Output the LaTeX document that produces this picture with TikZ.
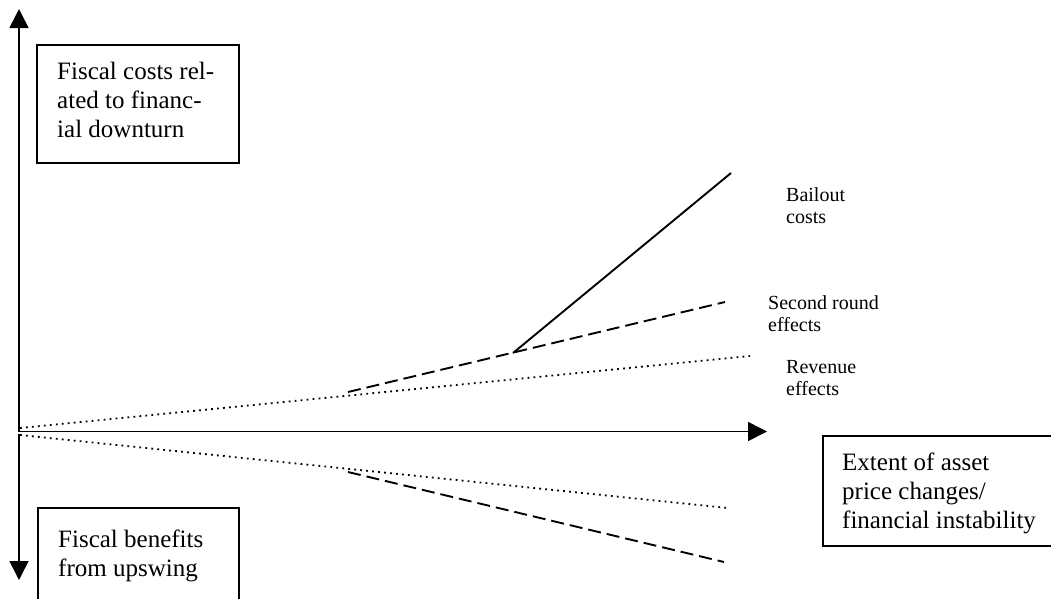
\documentclass[tikz,border=0pt]{standalone}
\usepackage{fontspec}
\setmainfont{Liberation Serif}
\usetikzlibrary{arrows.meta}
\begin{document}
\begin{tikzpicture}[x=1pt,y=-1pt,
  axis/.style={line width=1.6pt,-{Triangle[length=19pt,width=19pt]}},
  framebox/.style={draw,line width=1.3pt},
  boxtext/.style={anchor=north west,inner sep=0pt,align=left,font=\fontsize{25}{28.8}\selectfont},
  labeltext/.style={anchor=north west,inner sep=0pt,align=left,font=\fontsize{20}{22.5}\selectfont},
  dashline/.style={line width=1.9pt,dash pattern=on 13pt off 6pt},
  dotline/.style={line width=1.8pt,dash pattern=on 1.8pt off 4.2pt},
  solidline/.style={line width=1.9pt}]
\path[use as bounding box] (0,0) rectangle (1051,598);
\clip (0,0) rectangle (1051,598);
% axes
\coordinate (o) at (19,431.5);
\coordinate (ytop) at (19,9);
\coordinate (obot) at (19,434);
\coordinate (ybot) at (19,580);
\coordinate (xend) at (767,431.5);
\draw[axis] (o) -- (ytop);
\draw[axis] (obot) -- (ybot);
\draw[axis] (o) -- (xend);
% boxes
\draw[framebox] (37,45) rectangle (239,163);
\node[boxtext] (costs) at (57,62) {Fiscal costs rel-\\ated to financ-\\ial downturn};
\draw[framebox] (38,508) rectangle (239,620);
\node[boxtext] (benefits) at (58,530) {Fiscal benefits\\from upswing};
\draw[framebox] (823,436) rectangle (1070,546);
\node[boxtext] (extent) at (842,453) {Extent of asset\\price changes/\\financial instability};
% curves
\coordinate (revA) at (20,428);
\coordinate (revB) at (750,356);
\coordinate (secA) at (348,392);
\coordinate (secB) at (725,302);
\coordinate (bailA) at (513,353);
\coordinate (bailB) at (731,173);
\coordinate (lrevA) at (20,435);
\coordinate (lrevB) at (728,508);
\coordinate (lsecA) at (348,472);
\coordinate (lsecB) at (724,562);
\draw[dotline] (revA) -- (revB);
\draw[dashline] (secA) -- (secB);
\draw[solidline] (bailA) -- (bailB);
\draw[dotline] (lrevA) -- (lrevB);
\draw[dashline] (lsecA) -- (lsecB);
% labels
\node[labeltext] (bail) at (786,187.3) {Bailout\\costs};
\node[labeltext] (sec) at (768,295.3) {Second round\\effects};
\node[labeltext] (rev) at (786,359.8) {Revenue\\effects};
\end{tikzpicture}
\end{document}
